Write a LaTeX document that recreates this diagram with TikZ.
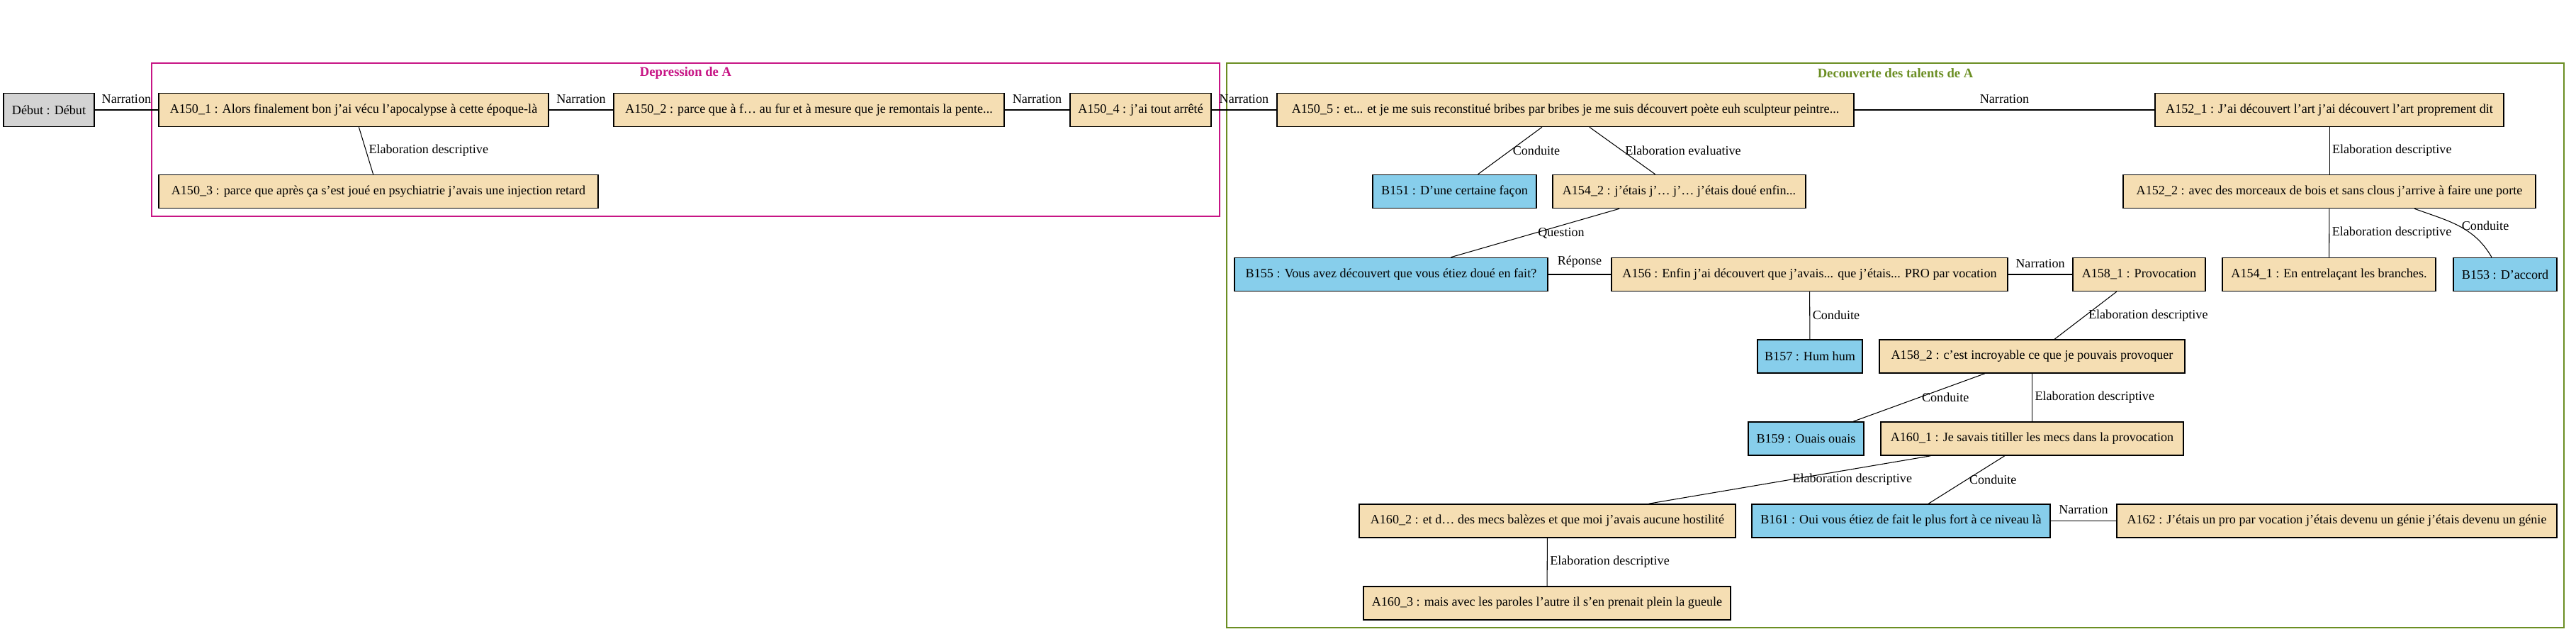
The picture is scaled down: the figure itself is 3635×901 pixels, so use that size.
\documentclass[tikz,border=0pt]{standalone}
\usepackage{fontspec}
\setmainfont{Liberation Serif}
\usetikzlibrary{calc}
\definecolor{segtan}{HTML}{F5DEB3}
\definecolor{segblue}{HTML}{87CEEB}
\definecolor{seggray}{HTML}{D3D3D3}
\definecolor{clusterpink}{HTML}{C71585}
\definecolor{clustergreen}{HTML}{6B8E23}
\begin{document}
\begin{tikzpicture}[x=0.01cm,y=0.01cm,
    every node/.style={font=\fontsize{5.15}{6.2}\selectfont},
    seg/.style={draw,line width=0.45pt,fill=segtan,minimum height=0.47cm,inner sep=0pt},
    segb/.style={seg,fill=segblue},
    rel/.style={line width=0.3pt},
    hlbl/.style={above,inner sep=2.5pt},
    dlbl/.style={right,inner sep=1pt},
    clustitle/.style={font=\fontsize{5.3}{6.4}\selectfont\bfseries}]
  \useasboundingbox (0,0) rectangle (3635,-901);

  \draw[clusterpink,line width=0.4pt] (214,-89) rectangle (1721,-305);
  \node[clustitle,text=clusterpink] (deptitle) at (967.5,-103) {Depression de A};
  \draw[clustergreen,line width=0.4pt] (1731,-89) rectangle (3618,-885);
  \node[clustitle,text=clustergreen] (dectitle) at (2674.5,-103) {Decouverte des talents de A};

  \node[seg,fill=seggray,minimum width=1.28cm] (debut) at (69,-155) {Début : Début};
  \node[seg,minimum width=5.50cm] (a1501) at (499,-155) {A150\_1 : Alors finalement bon j’ai vécu l’apocalypse à cette époque-là};
  \node[seg,minimum width=5.51cm] (a1502) at (1141.5,-155) {A150\_2 : parce que à f… au fur et à mesure que je remontais la pente...};
  \node[seg,minimum width=1.99cm] (a1504) at (1609.5,-155) {A150\_4 : j’ai tout arrêté};
  \node[seg,minimum width=6.20cm] (a1503) at (534,-270) {A150\_3 : parce que après ça s’est joué en psychiatrie j’avais une injection retard};
  \node[seg,minimum width=8.14cm] (a1505) at (2209,-155) {A150\_5 : et... et je me suis reconstitué bribes par bribes je me suis découvert poète euh sculpteur peintre...};
  \node[seg,minimum width=4.92cm] (a1521) at (3287,-155) {A152\_1 : J’ai découvert l’art j’ai découvert l’art proprement dit};
  \node[segb,minimum width=2.31cm] (b151) at (2052.5,-270) {B151 : D’une certaine façon};
  \node[seg,minimum width=3.57cm] (a1542) at (2369.5,-270) {A154\_2 : j’étais j’… j’… j’étais doué enfin...};
  \node[seg,minimum width=5.82cm] (a1522) at (3287,-270) {A152\_2 : avec des morceaux de bois et sans clous j’arrive à faire une porte};
  \node[segb,minimum width=4.42cm] (b155) at (1963,-387) {B155 : Vous avez découvert que vous étiez doué en fait?};
  \node[seg,minimum width=5.59cm] (a156) at (2553.5,-387) {A156 : Enfin j’ai découvert que j’avais... que j’étais... PRO par vocation};
  \node[seg,minimum width=1.87cm] (a1581) at (3018.5,-387) {A158\_1 : Provocation};
  \node[seg,minimum width=3.01cm] (a1541) at (3286.5,-387) {A154\_1 : En entrelaçant les branches.};
  \node[segb,minimum width=1.46cm] (b153) at (3535,-387) {B153 : D’accord};
  \node[segb,minimum width=1.48cm] (b157) at (2554,-502.5) {B157 : Hum hum};
  \node[seg,minimum width=4.31cm] (a1582) at (2867.5,-502.5) {A158\_2 : c’est incroyable ce que je pouvais provoquer};
  \node[segb,minimum width=1.63cm] (b159) at (2548.5,-618.5) {B159 : Ouais ouais};
  \node[seg,minimum width=4.27cm] (a1601) at (2867.5,-618.5) {A160\_1 : Je savais titiller les mecs dans la provocation};
  \node[seg,minimum width=5.31cm] (a1602) at (2183.5,-734.5) {A160\_2 : et d… des mecs balèzes et que moi j’avais aucune hostilité};
  \node[segb,minimum width=4.21cm] (b161) at (2682.5,-734.5) {B161 : Oui vous étiez de fait le plus fort à ce niveau là};
  \node[seg,minimum width=6.21cm] (a162) at (3297.5,-734.5) {A162 : J’étais un pro par vocation j’étais devenu un génie j’étais devenu un génie};
  \node[seg,minimum width=5.18cm] (a1603) at (2183,-850.5) {A160\_3 : mais avec les paroles l’autre il s’en prenait plein la gueule};

  \path[rel] (debut) edge node[hlbl] {Narration} (a1501)
    (a1501) edge node[hlbl] {Narration} (a1502)
    (a1502) edge node[hlbl] {Narration} (a1504)
    (a1504) edge node[hlbl] {Narration} (a1505)
    (a1505) edge node[hlbl] {Narration} (a1521)
    (a1501) edge node[dlbl] {Elaboration descriptive} (a1503)
    (a1505) edge node[dlbl] {Conduite} (b151)
    (a1505) edge node[dlbl] {Elaboration evaluative} (a1542)
    (a1542) edge node[dlbl] {Question} (b155)
    (b155) edge node[hlbl] {Réponse} (a156)
    (a156) edge node[hlbl] {Narration} (a1581)
    (a1521) edge node[dlbl] {Elaboration descriptive} (a1522)
    (a1522) edge node[dlbl] {Elaboration descriptive} (a1541)
    ([xshift=1.2cm]a1522.south) edge[out=-20,in=120] node[dlbl] {Conduite} ([xshift=-0.19cm]b153.north)
    (a156) edge node[dlbl] {Conduite} (b157)
    (a1581) edge node[dlbl] {Elaboration descriptive} (a1582)
    (a1582) edge node[dlbl] {Conduite} (b159)
    (a1582) edge node[dlbl] {Elaboration descriptive} (a1601)
    (a1601) edge node[dlbl] {Elaboration descriptive} (a1602)
    (a1601) edge node[dlbl] {Conduite} (b161)
    (b161) edge node[hlbl] {Narration} (a162)
    (a1602) edge node[dlbl] {Elaboration descriptive} (a1603);
\end{tikzpicture}
\end{document}
